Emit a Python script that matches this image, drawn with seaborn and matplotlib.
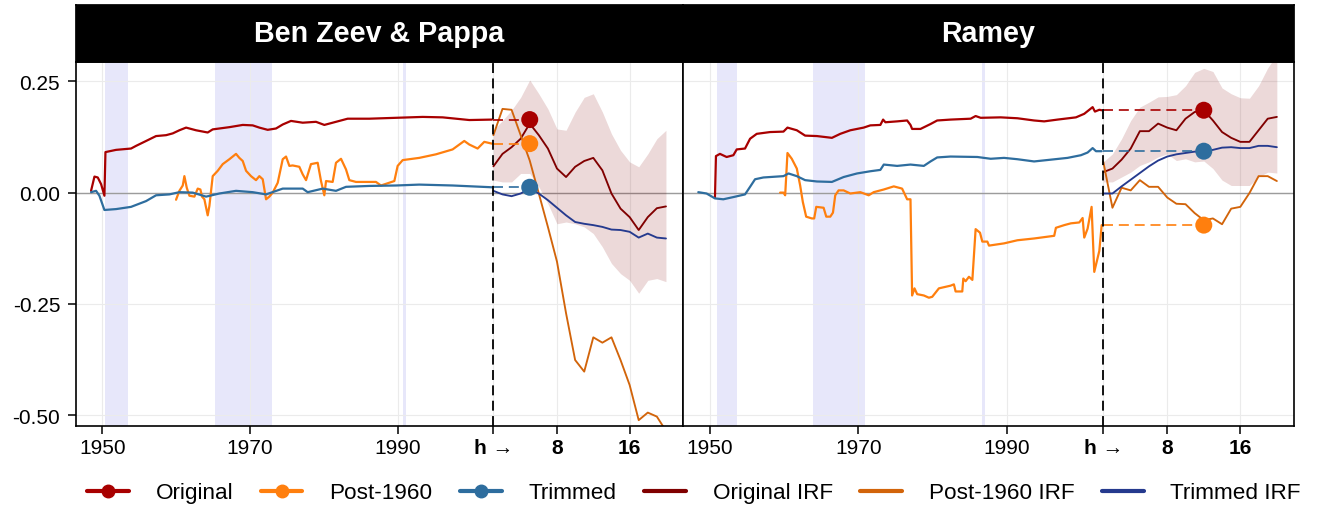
import numpy as np
import pandas as pd
import matplotlib
matplotlib.use("Agg")
import matplotlib.pyplot as plt
import seaborn as sns
from matplotlib.lines import Line2D

# ---------------- data ----------------
panel_titles = ["Ben Zeev & Pappa", "Ramey"]
series_names = ["Original", "Post-1960", "Trimmed"]
irf_names = ["Original IRF", "Post-1960 IRF", "Trimmed IRF"]

# Ben Zeev & Pappa: rolling estimates (history)
bzp_orig_year = [1948.46, 1948.92, 1949.37, 1949.82, 1950.27, 1950.41, 1951.85, 1953.88, 1954.56, 1955.92,
                 1957.27, 1958.63, 1959.53, 1960.43, 1961.34, 1962.69, 1964.27, 1964.95, 1967.21, 1969.02,
                 1970.37, 1971.27, 1972.40, 1973.53, 1974.44, 1975.56, 1977.15, 1978.95, 1980.08, 1981.66,
                 1983.24, 1986.18, 1989.79, 1993.41, 1996.12, 1999.73, 2002.80]
bzp_orig_val = [0.004, 0.036, 0.034, 0.019, -0.007, 0.091, 0.096, 0.099, 0.105, 0.116,
                0.127, 0.129, 0.133, 0.140, 0.146, 0.140, 0.135, 0.142, 0.147, 0.152,
                0.151, 0.146, 0.141, 0.144, 0.153, 0.161, 0.157, 0.159, 0.152, 0.159,
                0.166, 0.166, 0.168, 0.170, 0.169, 0.163, 0.164]

bzp_post_year = [1959.98, 1960.43, 1960.89, 1961.11, 1961.43, 1961.79, 1962.47, 1962.92, 1963.28, 1963.50,
                 1963.82, 1964.27, 1964.50, 1964.95, 1965.63, 1966.31, 1967.21, 1968.11, 1968.56, 1969.02,
                 1969.47, 1970.14, 1970.82, 1971.27, 1971.73, 1972.18, 1972.63, 1973.08, 1973.76, 1974.44,
                 1974.89, 1975.34, 1975.79, 1976.69, 1977.15, 1977.60, 1978.27, 1979.18, 1979.63, 1980.08,
                 1980.31, 1981.21, 1981.66, 1982.34, 1983.02, 1983.47, 1984.37, 1987.08, 1987.76, 1989.57,
                 1990.02, 1990.70, 1992.95, 1995.21, 1997.47, 1999.05, 1999.73, 2000.86, 2001.76, 2002.80]
bzp_post_val = [-0.016, 0.004, 0.016, 0.037, 0.011, -0.007, -0.009, 0.009, 0.007, -0.009,
                -0.015, -0.051, -0.030, 0.037, 0.049, 0.064, 0.075, 0.087, 0.078, 0.071,
                0.049, 0.037, 0.028, 0.037, 0.030, -0.015, -0.009, 0.000, 0.022, 0.075,
                0.081, 0.060, 0.061, 0.058, 0.041, 0.028, 0.064, 0.067, 0.026, -0.006,
                0.026, 0.024, 0.067, 0.076, 0.052, 0.028, 0.024, 0.024, 0.016, 0.026,
                0.060, 0.073, 0.078, 0.086, 0.097, 0.116, 0.108, 0.099, 0.114, 0.110]

bzp_trim_year = [1948.46, 1949.14, 1949.59, 1950.27, 1951.85, 1953.88, 1955.92, 1957.27, 1959.08, 1960.43,
                 1962.24, 1964.05, 1965.85, 1968.11, 1970.37, 1972.18, 1974.44, 1977.15, 1977.82, 1979.86,
                 1981.66, 1983.02, 1986.18, 1989.79, 1992.95, 1997.47, 2002.80]
bzp_trim_val = [0.001, 0.004, -0.007, -0.039, -0.037, -0.032, -0.019, -0.006, -0.004, 0.001,
                0.000, -0.009, -0.002, 0.004, 0.001, -0.004, 0.009, 0.009, 0.001, 0.009,
                0.004, 0.013, 0.015, 0.016, 0.018, 0.016, 0.012]

# Ramey: rolling estimates (history)
ram_orig_year = [1950.66, 1950.79, 1951.33, 1952.23, 1953.14, 1953.59, 1954.71, 1955.39, 1956.29, 1958.09,
                 1959.89, 1960.43, 1961.69, 1962.81, 1964.40, 1966.42, 1967.55, 1968.90, 1970.70, 1971.60,
                 1972.95, 1973.32, 1973.63, 1975.21, 1976.56, 1977.01, 1977.23, 1978.36, 1979.71, 1980.61,
                 1982.41, 1985.12, 1985.79, 1986.47, 1989.17, 1991.42, 1993.67, 1995.03, 1996.83, 1999.31,
                 2000.43, 2001.56, 2001.87, 2002.46, 2002.78]
ram_orig_val = [-0.012, 0.082, 0.087, 0.080, 0.084, 0.097, 0.099, 0.121, 0.132, 0.136,
                0.137, 0.146, 0.140, 0.128, 0.127, 0.123, 0.132, 0.140, 0.146, 0.151,
                0.152, 0.164, 0.158, 0.160, 0.162, 0.152, 0.143, 0.143, 0.154, 0.162,
                0.164, 0.166, 0.172, 0.168, 0.169, 0.167, 0.162, 0.160, 0.164, 0.169,
                0.177, 0.192, 0.182, 0.186, 0.185]

ram_post_year = [1959.44, 1959.89, 1960.12, 1960.43, 1961.01, 1961.69, 1962.14, 1962.50, 1962.95, 1963.72,
                 1964.03, 1964.31, 1965.30, 1965.66, 1966.20, 1966.56, 1966.87, 1967.32, 1968.00, 1968.90,
                 1970.25, 1971.38, 1972.05, 1973.41, 1974.76, 1975.88, 1976.56, 1977.01, 1977.23, 1977.55,
                 1977.91, 1978.81, 1979.49, 1979.94, 1980.84, 1982.41, 1982.86, 1983.09, 1983.99, 1984.13,
                 1984.44, 1984.89, 1985.35, 1985.79, 1986.38, 1986.69, 1987.37, 1987.59, 1989.62, 1991.42,
                 1993.67, 1996.38, 1996.61, 1997.73, 1998.63, 1999.76, 2000.21, 2000.43, 2000.88, 2001.42,
                 2001.78, 2002.46, 2002.78]
ram_post_val = [0.000, 0.000, -0.006, 0.089, 0.076, 0.054, 0.016, -0.021, -0.054, -0.058,
                -0.058, -0.032, -0.034, -0.054, -0.054, -0.045, -0.006, 0.005, 0.005, -0.002,
                0.001, -0.006, 0.001, 0.007, 0.014, 0.009, -0.015, -0.015, -0.231, -0.215,
                -0.228, -0.231, -0.236, -0.234, -0.215, -0.209, -0.206, -0.222, -0.222, -0.193,
                -0.199, -0.189, -0.196, -0.082, -0.090, -0.110, -0.110, -0.119, -0.114, -0.107,
                -0.103, -0.097, -0.079, -0.073, -0.069, -0.067, -0.057, -0.101, -0.081, -0.032,
                -0.178, -0.131, -0.073]

ram_trim_year = [1948.41, 1949.53, 1950.66, 1951.78, 1953.14, 1954.71, 1955.39, 1956.06, 1957.18, 1959.89,
                 1960.57, 1961.69, 1962.81, 1964.40, 1966.42, 1968.00, 1969.80, 1971.60, 1972.95, 1973.41,
                 1975.21, 1977.01, 1978.81, 1979.71, 1980.61, 1982.41, 1986.02, 1987.82, 1989.62, 1991.42,
                 1993.67, 1995.93, 1998.18, 1999.98, 2000.88, 2001.56, 2002.01, 2002.78]
ram_trim_val = [0.001, -0.002, -0.013, -0.015, -0.010, -0.004, 0.013, 0.030, 0.034, 0.037,
                0.043, 0.037, 0.028, 0.025, 0.024, 0.035, 0.043, 0.048, 0.051, 0.063,
                0.060, 0.063, 0.060, 0.070, 0.079, 0.081, 0.080, 0.076, 0.078, 0.075,
                0.070, 0.074, 0.078, 0.084, 0.090, 0.100, 0.093, 0.093]

# Impulse responses, horizons 1..20
irf_h = list(range(1, 21))
bzp_irf_orig = [0.059, 0.087, 0.102, 0.121, 0.155, 0.129, 0.099, 0.054, 0.035, 0.058,
                0.071, 0.078, 0.050, -0.002, -0.036, -0.055, -0.084, -0.055, -0.035, -0.031]
bzp_irf_post = [0.129, 0.188, 0.186, 0.129, 0.072, -0.002, -0.077, -0.155, -0.271, -0.376,
                -0.402, -0.325, -0.337, -0.325, -0.376, -0.432, -0.511, -0.494, -0.503, -0.535]
bzp_irf_trim = [0.004, -0.004, -0.008, -0.002, 0.009, -0.002, -0.017, -0.034, -0.051, -0.066,
                -0.070, -0.073, -0.077, -0.083, -0.084, -0.088, -0.101, -0.092, -0.101, -0.103]
bzp_band_lo = [0.028, 0.024, 0.024, 0.043, 0.043, 0.013, -0.025, -0.070, -0.066, -0.070,
               -0.077, -0.092, -0.122, -0.159, -0.182, -0.197, -0.226, -0.197, -0.193, -0.200]
bzp_band_hi = [0.140, 0.162, 0.185, 0.214, 0.253, 0.222, 0.188, 0.143, 0.140, 0.181,
               0.214, 0.222, 0.181, 0.132, 0.095, 0.069, 0.058, 0.087, 0.121, 0.140]

ram_irf_orig = [0.046, 0.054, 0.074, 0.099, 0.138, 0.138, 0.155, 0.146, 0.140, 0.166,
                0.181, 0.185, 0.162, 0.136, 0.123, 0.114, 0.114, 0.140, 0.166, 0.170]
ram_irf_post = [0.069, -0.034, 0.011, 0.005, 0.028, 0.013, 0.013, -0.011, -0.025, -0.026,
                -0.046, -0.062, -0.058, -0.071, -0.036, -0.032, -0.001, 0.037, 0.037, 0.026]
ram_irf_trim = [-0.002, -0.002, 0.014, 0.029, 0.044, 0.059, 0.072, 0.081, 0.086, 0.089,
                0.092, 0.093, 0.096, 0.101, 0.102, 0.100, 0.100, 0.105, 0.105, 0.102]
ram_band_lo = [0.024, 0.024, 0.035, 0.046, 0.061, 0.069, 0.080, 0.087, 0.072, 0.076,
               0.069, 0.071, 0.054, 0.028, 0.016, 0.016, 0.016, 0.035, 0.046, 0.044]
ram_band_hi = [0.069, 0.087, 0.121, 0.162, 0.192, 0.203, 0.215, 0.216, 0.220, 0.240,
               0.270, 0.279, 0.272, 0.235, 0.222, 0.213, 0.212, 0.240, 0.280, 0.310]

# highlighted horizon for the dots
bzp_dot_h = 5
ram_dot_h = 12

# shaded episodes
bzp_shade_start = [1950.4, 1965.2, 1990.7]
bzp_shade_end = [1953.5, 1973.0, 1991.1]
ram_shade_start = [1950.9, 1963.9, 1986.6]
ram_shade_end = [1953.6, 1970.9, 1987.0]

year_ticks = [1950, 1970, 1990]
h_ticks = [8, 16]
h_tick_labels = ["8", "16"]
split_label = "h \u2192"

# ---------------- styling ----------------
SPLIT = 2003.0        # where the horizon axis starts
H_STEP = 1.231        # width of one horizon step in year units

def hpos(h):
    return SPLIT + (np.asarray(h, dtype=float) - 1.0) * H_STEP

C_HIST = {"Original": "#A80000", "Post-1960": "#FF7F0E", "Trimmed": "#2E6D9E"}
C_IRF = {"Original IRF": "#800000", "Post-1960 IRF": "#D2640A", "Trimmed IRF": "#253A8E"}

sns.set_theme(style="white")
plt.rcParams["font.family"] = ["Liberation Sans", "DejaVu Sans"]
plt.rcParams["text.color"] = "black"

panels = {
    "Ben Zeev & Pappa": dict(
        hist={"Original": (bzp_orig_year, bzp_orig_val),
              "Post-1960": (bzp_post_year, bzp_post_val),
              "Trimmed": (bzp_trim_year, bzp_trim_val)},
        irf={"Original IRF": bzp_irf_orig, "Post-1960 IRF": bzp_irf_post, "Trimmed IRF": bzp_irf_trim},
        lo=bzp_band_lo, hi=bzp_band_hi, dot_h=bzp_dot_h,
        shade=(bzp_shade_start, bzp_shade_end)),
    "Ramey": dict(
        hist={"Original": (ram_orig_year, ram_orig_val),
              "Post-1960": (ram_post_year, ram_post_val),
              "Trimmed": (ram_trim_year, ram_trim_val)},
        irf={"Original IRF": ram_irf_orig, "Post-1960 IRF": ram_irf_post, "Trimmed IRF": ram_irf_trim},
        lo=ram_band_lo, hi=ram_band_hi, dot_h=ram_dot_h,
        shade=(ram_shade_start, ram_shade_end)),
}

W, H = 1318, 510
fig = plt.figure(figsize=(W / 100, H / 100), dpi=100)
left_px, mid_px, right_px = 75.5, 683.0, 1294.0
top_px, bot_px, strip_top_px = 62.7, 426.5, 6.0
axes = [
    fig.add_axes([left_px / W, 1 - bot_px / H, (mid_px - left_px) / W, (bot_px - top_px) / H]),
    fig.add_axes([mid_px / W, 1 - bot_px / H, (right_px - mid_px) / W, (bot_px - top_px) / H]),
]

hx = hpos(irf_h)
for i, (ax, title) in enumerate(zip(axes, panel_titles)):
    p = panels[title]
    ax.set_xlim(1946.35, 2028.7)
    ax.set_ylim(-0.523, 0.294)
    ax.set_axisbelow(True)

    for s, e in zip(*p["shade"]):
        ax.axvspan(s, e, color="#E3E3FA", alpha=0.85, lw=0, zorder=0)

    ax.grid(True, color="#EBEBEB", lw=0.8)
    ax.axhline(0, color="#9C9C9C", lw=1.0, zorder=1)

    ax.fill_between(hx, p["lo"], p["hi"], color="#800000", alpha=0.15, lw=0, zorder=1.5)

    for name in series_names:
        xs, ys = p["hist"][name]
        sns.lineplot(x=xs, y=ys, ax=ax, color=C_HIST[name], linewidth=1.6,
                     estimator=None, sort=False, legend=False, zorder=2)
    for name in irf_names:
        sns.lineplot(x=hx, y=p["irf"][name], ax=ax, color=C_IRF[name], linewidth=1.35,
                     estimator=None, sort=False, legend=False, zorder=2.2)

    xd = float(hpos(p["dot_h"]))
    dot_vals = [p["hist"][n][1][-1] for n in series_names]
    for name, v in zip(series_names, dot_vals):
        ax.plot([SPLIT, xd], [v, v], color=C_HIST[name], lw=1.2,
                linestyle=(0, (6, 3.5)), zorder=2.5)
    dots = pd.DataFrame({"x": [xd] * 3, "y": dot_vals, "series": series_names})
    sns.scatterplot(data=dots, x="x", y="y", hue="series", palette=C_HIST, s=150,
                    edgecolor="none", linewidth=0, ax=ax, legend=False, zorder=4)

    ax.axvline(SPLIT, color="black", lw=1.3, linestyle=(0, (5.5, 3)), zorder=3)

    xt = year_ticks + [SPLIT] + list(hpos(h_ticks))
    ax.set_xticks(xt)
    ax.set_xticklabels([str(y) for y in year_ticks] + [split_label] + h_tick_labels)
    for lbl in ax.get_xticklabels()[len(year_ticks):]:
        lbl.set_fontweight("bold")
    ax.set_yticks([0.25, 0.0, -0.25, -0.5])
    ax.set_yticklabels(["0.25", "0.00", "-0.25", "-0.50"])
    ax.tick_params(axis="both", which="major", direction="out", length=6, width=1.1,
                   color="black", labelsize=15, labelcolor="black", bottom=True, left=True)
    ax.tick_params(axis="x", pad=3)
    ax.tick_params(axis="y", pad=5)
    if i == 1:
        ax.tick_params(axis="y", left=False, labelleft=False)
    ax.set_xlabel("")
    ax.set_ylabel("")
    for sp in ax.spines.values():
        sp.set_color("black")
        sp.set_linewidth(1.2)

    sax = ax.inset_axes([0, 1, 1, (top_px - strip_top_px) / (bot_px - top_px)])
    sax.set_facecolor("black")
    sax.set_xticks([])
    sax.set_yticks([])
    for sp in sax.spines.values():
        sp.set_color("black")
    sax.text(0.5, 0.5, title, color="white", fontsize=20.6, fontweight="bold",
             ha="center", va="center", transform=sax.transAxes)

handles = [Line2D([0], [0], color=C_HIST[n], lw=3, marker="o", markersize=9) for n in series_names]
handles += [Line2D([0], [0], color=C_IRF[n], lw=3) for n in irf_names]
leg = fig.legend(handles, series_names + irf_names, loc="center", bbox_to_anchor=(694 / W, 1 - 494 / H),
                 ncol=6, frameon=False, fontsize=16.2, handlelength=1.85, handletextpad=1.2,
                 columnspacing=1.22)
for t in leg.get_texts():
    t.set_color("black")

fig.savefig("out.png", dpi=100)
